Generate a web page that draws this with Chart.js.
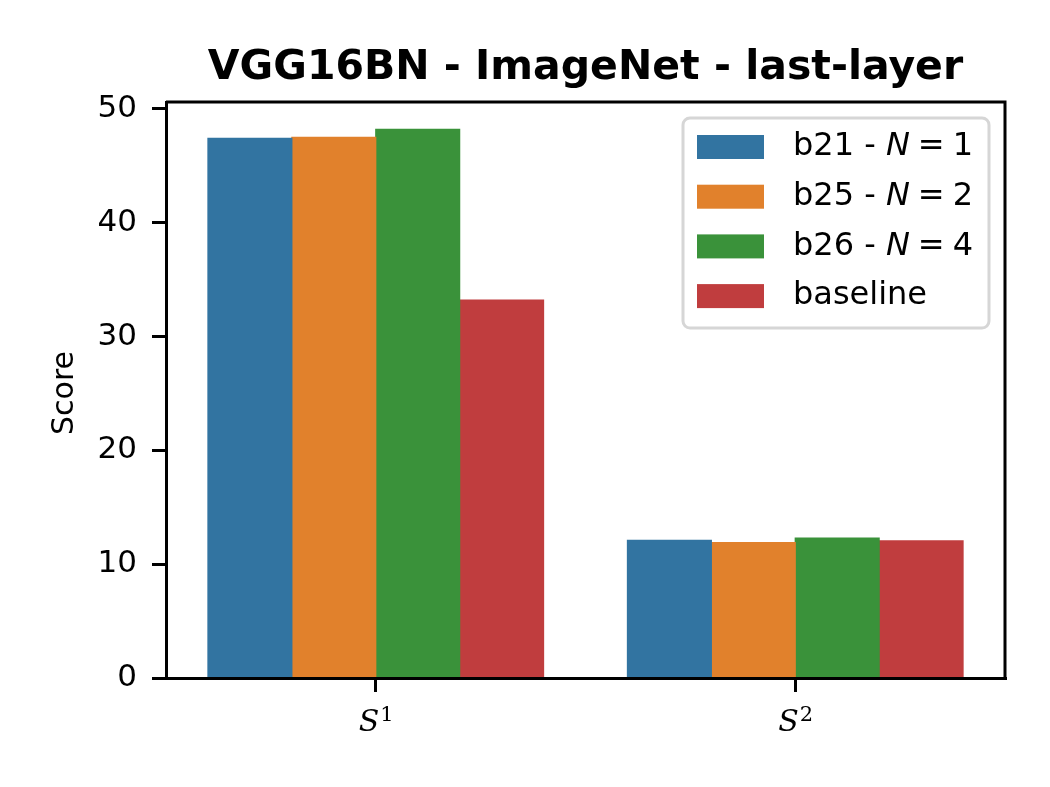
<!DOCTYPE html>
<html>
<head>
<meta charset="utf-8">
<script src="https://cdn.jsdelivr.net/npm/chart.js@4/dist/chart.umd.min.js"></script>
<style>
  html, body { margin: 0; padding: 0; background: #ffffff; }
  #chart { display: block; }
</style>
</head>
<body>
<canvas id="chart" width="1050" height="787"></canvas>
<script>
/* data */
var categories  = ['S', 'S'];
var catSup      = ['1', '2'];
var seriesNames = ['b21', 'b25', 'b26', 'baseline'];
var seriesN     = [1, 2, 4, null];
var b21Values      = [47.4, 12.1];
var b25Values      = [47.5, 11.9];
var b26Values      = [48.2, 12.3];
var baselineValues = [33.2, 12.05];
var yTicks = [0, 10, 20, 30, 40, 50];

var INK    = '#000000';
var BLUE   = '#3274a1';
var ORANGE = '#e1812c';
var GREEN  = '#3a923a';
var RED    = '#c03d3e';
var FONT   = 'DejaVu Sans';

var seriesValues = [b21Values, b25Values, b26Values, baselineValues];
var seriesColors = [BLUE, ORANGE, GREEN, RED];

/* --- frame, title, y label, x tick labels, legend --- */
var decorPlugin = {
  id: 'decor',
  afterDraw: function(chart) {
    var ctx = chart.ctx;
    var a = chart.chartArea;
    ctx.save();

    // top + right spines
    ctx.strokeStyle = INK;
    ctx.lineWidth = 3;
    ctx.beginPath();
    ctx.moveTo(a.left, a.top);
    ctx.lineTo(a.right, a.top);
    ctx.lineTo(a.right, a.bottom);
    ctx.stroke();

    // title
    ctx.fillStyle = INK;
    ctx.font = 'bold 41px "' + FONT + '"';
    ctx.textAlign = 'center';
    ctx.textBaseline = 'alphabetic';
    ctx.fillText('VGG16BN - ImageNet - last-layer', (a.left + a.right) / 2, 79);

    // y label
    ctx.save();
    ctx.translate(73, (a.top + a.bottom) / 2 + 3);
    ctx.rotate(-Math.PI / 2);
    ctx.font = '30px "' + FONT + '"';
    ctx.textAlign = 'center';
    ctx.textBaseline = 'alphabetic';
    ctx.fillText('Score', 0, 0);
    ctx.restore();

    // x tick labels: italic S with superscript
    var xs = chart.scales.x;
    categories.forEach(function(c, i) {
      var px = xs.getPixelForTick(i);
      ctx.font = 'italic 30px "DejaVu Serif"';
      var w1 = ctx.measureText(c).width;
      ctx.font = '21px "DejaVu Serif"';
      var w2 = ctx.measureText(catSup[i]).width;
      var x0 = px - (w1 + w2) / 2;
      ctx.textAlign = 'left';
      ctx.font = 'italic 30px "DejaVu Serif"';
      ctx.fillText(c, x0, 731);
      ctx.font = '21px "DejaVu Serif"';
      ctx.fillText(catSup[i], x0 + w1 + 1, 721);
    });

    // legend box
    var lx = 683, ly = 118, lw = 306, lh = 210;
    ctx.fillStyle = 'rgba(255,255,255,0.8)';
    ctx.strokeStyle = '#d6d6d6';
    ctx.lineWidth = 3;
    ctx.beginPath();
    ctx.roundRect(lx, ly, lw, lh, 7);
    ctx.fill();
    ctx.stroke();

    chart.data.datasets.forEach(function(ds, i) {
      var cy = 147 + i * 49.7;
      ctx.fillStyle = ds.backgroundColor;
      ctx.fillRect(697, cy - 12, 67, 24);
      ctx.fillStyle = INK;
      ctx.textBaseline = 'middle';
      ctx.textAlign = 'left';
      var x = 793;
      ctx.font = '32px "' + FONT + '"';
      if (seriesN[i] === null) {
        ctx.fillText(seriesNames[i], x, cy);
      } else {
        var pre = seriesNames[i] + ' - ';
        ctx.fillText(pre, x, cy);
        x += ctx.measureText(pre).width;
        ctx.font = 'oblique 32px "' + FONT + '"';
        ctx.fillText('N', x, cy);
        x += ctx.measureText('N').width + 8;
        ctx.font = '32px "' + FONT + '"';
        ctx.fillText('=', x, cy);
        x += ctx.measureText('=').width + 8;
        ctx.fillText(String(seriesN[i]), x, cy);
      }
    });

    ctx.restore();
  }
};

new Chart(document.getElementById('chart'), {
  type: 'bar',
  data: {
    labels: categories.map(function(c, i) { return c + catSup[i]; }),
    datasets: seriesNames.map(function(n, i) {
      return {
        label: n,
        data: seriesValues[i],
        backgroundColor: seriesColors[i],
        borderWidth: 0,
        inflateAmount: 0.6,
        categoryPercentage: 0.8,
        barPercentage: 1.0
      };
    })
  },
  options: {
    responsive: false,
    animation: false,
    devicePixelRatio: 1,
    layout: { padding: { top: 102, right: 45, left: 0, bottom: 0 } },
    plugins: {
      legend: { display: false },
      title: { display: false },
      tooltip: { enabled: false }
    },
    scales: {
      x: {
        afterFit: function(s) { s.height = 109; },
        grid: { offset: false, drawOnChartArea: false, drawTicks: true, tickLength: 14, color: INK, lineWidth: 3 },
        border: { color: INK, width: 3 },
        ticks: { callback: function() { return ''; } }
      },
      y: {
        min: 0,
        max: 50.6,
        afterFit: function(s) { s.width = 166; },
        afterBuildTicks: function(s) {
          s.ticks = yTicks.map(function(v) { return { value: v }; });
        },
        grid: { drawOnChartArea: false, drawTicks: true, tickLength: 14, color: INK, lineWidth: 3 },
        border: { color: INK, width: 3 },
        ticks: {
          padding: 15,
          color: INK,
          font: { family: FONT, size: 31 }
        }
      }
    }
  },
  plugins: [decorPlugin]
});
</script>
</body>
</html>
